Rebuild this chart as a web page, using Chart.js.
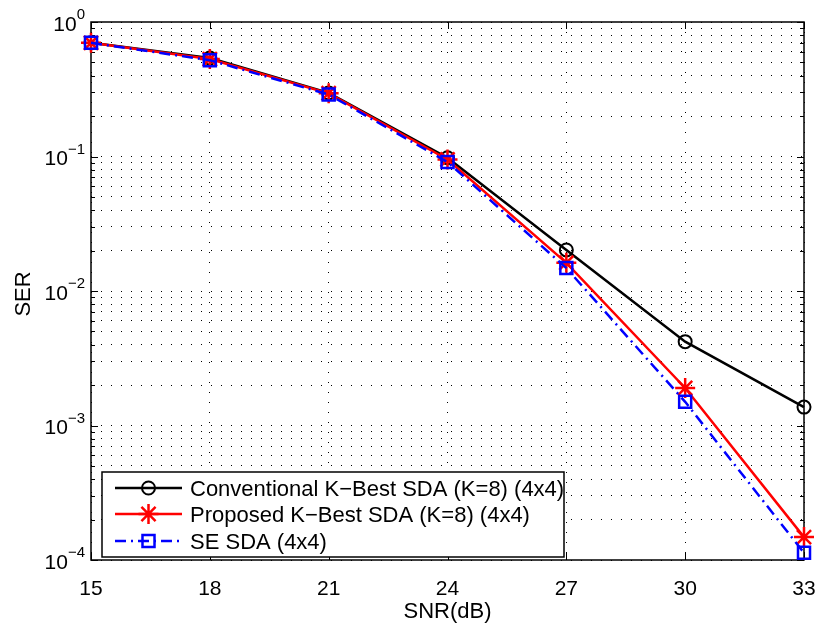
<!DOCTYPE html>
<html>
<head>
<meta charset="utf-8">
<script src="https://cdn.jsdelivr.net/npm/chart.js@4/dist/chart.umd.min.js"></script>
<style>
  html, body { margin: 0; padding: 0; background: #fff; }
  #wrap { width: 821px; height: 628px; }
</style>
</head>
<body>
<div id="wrap"><canvas id="ser-chart"></canvas></div>
<script>
// ── Data ────────────────────────────────────────────────────────────
const snrDb = [15, 18, 21, 24, 27, 30, 33];
const xTicks = [15, 18, 21, 24, 27, 30, 33];
const yDecades = [-4, -3, -2, -1, 0];

const serConventional = [0.70, 0.54, 0.297, 0.098, 0.0202, 0.0042, 0.00137];
const serProposed     = [0.70, 0.53, 0.295, 0.095, 0.0162, 0.0019, 0.000148];
const serSeSda        = [0.70, 0.52, 0.289, 0.091, 0.0148, 0.0015, 0.000113];

const seriesNames = [
    "Conventional K\u2212Best SDA (K=8) (4x4)",
    "Proposed K\u2212Best SDA (K=8) (4x4)",
    "SE SDA (4x4)",
];

const FONT = "'Liberation Sans', Arial, Helvetica, sans-serif";

// log ticks: 1..9 x 10^e for each decade, plus the top one
const yTickValues = [];
yDecades.forEach((e, i) => {
    if (i === yDecades.length - 1) { yTickValues.push(Math.pow(10, e)); return; }
    for (let m = 1; m <= 9; m++) yTickValues.push(Number((m * Math.pow(10, e)).toPrecision(3)));
});

const toPoints = arr => snrDb.map((s, i) => ({ x: s, y: arr[i] }));

const styles = [
    { color: "#000000", dash: [], pointStyle: "circle", radius: 6.5, pw: 2 },
    { color: "#ff0000", dash: [], pointStyle: "star", radius: 10, pw: 2.5 },
    { color: "#0000ff", dash: [11, 5, 2, 5], pointStyle: "rect", radius: 8.5, pw: 2.5 },
];

// ── Axes frame, inward ticks, MATLAB style labels ───────────────────
const matlabAxes = {
    id: "matlabAxes",
    beforeDatasetsDraw(chart) {
        const { ctx, chartArea: a, scales: { x, y } } = chart;
        ctx.save();
        ctx.strokeStyle = "#000";
        ctx.setLineDash([]);
        ctx.lineWidth = 1;
        ctx.beginPath();
        y.ticks.forEach(t => {
            const py = Math.round(y.getPixelForValue(t.value)) + 0.5;
            const lg = Math.log10(t.value);
            const len = Math.abs(lg - Math.round(lg)) < 1e-9 ? 7 : 4;
            ctx.moveTo(a.left, py); ctx.lineTo(a.left + len, py);
            ctx.moveTo(a.right, py); ctx.lineTo(a.right - len, py);
        });
        x.ticks.forEach(t => {
            const px = Math.round(x.getPixelForValue(t.value)) + 0.5;
            ctx.moveTo(px, a.bottom); ctx.lineTo(px, a.bottom - 7);
            ctx.moveTo(px, a.top); ctx.lineTo(px, a.top + 7);
        });
        ctx.stroke();
        ctx.lineWidth = 1.5;
        ctx.strokeRect(a.left, a.top, a.right - a.left, a.bottom - a.top);

        // tick labels
        ctx.fillStyle = "#000";
        ctx.textBaseline = "alphabetic";
        ctx.font = "21px " + FONT;
        ctx.textAlign = "center";
        x.ticks.forEach(t => {
            ctx.fillText(String(t.value), x.getPixelForValue(t.value), a.bottom + 34.5);
        });
        yDecades.forEach(e => {
            const py = y.getPixelForValue(Math.pow(10, e));
            const expText = e === 0 ? "0" : "\u2212" + (-e);
            ctx.font = "15px " + FONT;
            const ew = ctx.measureText(expText).width;
            const right = a.left - 6;
            ctx.textAlign = "left";
            ctx.fillText(expText, right - ew, py - 2.6);
            ctx.font = "21px " + FONT;
            ctx.textAlign = "right";
            ctx.fillText("10", right - ew, py + 8.5);
        });

        // axis titles
        ctx.font = "22px " + FONT;
        ctx.textAlign = "center";
        ctx.fillText("SNR(dB)", (a.left + a.right) / 2, 618);
        ctx.save();
        ctx.translate(30, 294);
        ctx.rotate(-Math.PI / 2);
        ctx.fillText("SER", 0, 0);
        ctx.restore();
        ctx.restore();
    },
    afterDatasetsDraw(chart) {
        // legend box, lower left inside the axes
        const { ctx } = chart;
        const box = { left: 102, top: 472, width: 462, height: 85 };
        const rows = [488, 514, 541];
        ctx.save();
        ctx.fillStyle = "#fff";
        ctx.fillRect(box.left, box.top, box.width, box.height);
        ctx.strokeStyle = "#000";
        ctx.lineWidth = 1.5;
        ctx.setLineDash([]);
        ctx.strokeRect(box.left, box.top, box.width, box.height);

        styles.forEach((s, i) => {
            const ry = rows[i];
            ctx.strokeStyle = s.color;
            ctx.lineWidth = 2.5;
            ctx.setLineDash(s.dash);
            ctx.beginPath();
            ctx.moveTo(115, ry); ctx.lineTo(182, ry);
            ctx.stroke();
            ctx.setLineDash([]);
            ctx.lineWidth = s.pw;
            ctx.fillStyle = "rgba(0,0,0,0)";
            Chart.helpers.drawPoint(ctx, {
                pointStyle: s.pointStyle, radius: s.radius, rotation: 0, borderWidth: s.pw,
            }, 148.5, ry);
            ctx.fillStyle = "#000";
            ctx.font = "22px " + FONT;
            ctx.textAlign = "left";
            ctx.textBaseline = "alphabetic";
            ctx.fillText(seriesNames[i], 190, ry + 7.9);
        });
        ctx.restore();
    },
};

// ── Chart ───────────────────────────────────────────────────────────
const seriesData = [serConventional, serProposed, serSeSda];

const ctx = document.getElementById("ser-chart").getContext("2d");
new Chart(ctx, {
    type: "line",
    data: {
        datasets: seriesData.map((arr, i) => ({
            label: seriesNames[i],
            data: toPoints(arr),
            borderColor: styles[i].color,
            borderWidth: 2.5,
            borderDash: styles[i].dash,
            pointStyle: styles[i].pointStyle,
            pointRadius: styles[i].radius,
            pointBorderWidth: styles[i].pw,
            pointBorderColor: styles[i].color,
            pointBackgroundColor: "rgba(0,0,0,0)",
            tension: 0,
            fill: false,
            clip: false,
            order: 3 - i,
        })),
    },
    options: {
        responsive: true,
        maintainAspectRatio: false,
        animation: false,
        events: [],
        layout: { padding: { left: 91, top: 22, right: 17, bottom: 68 } },
        plugins: {
            legend: { display: false },
            tooltip: { enabled: false },
        },
        scales: {
            x: {
                type: "linear",
                min: 15,
                max: 33,
                afterBuildTicks: scale => { scale.ticks = xTicks.map(v => ({ value: v })); },
                ticks: { display: false },
                grid: { color: "#000", lineWidth: 1, drawTicks: false },
                border: { display: false, dash: [1, 9] },
            },
            y: {
                type: "logarithmic",
                min: 1e-4,
                max: 1,
                afterBuildTicks: scale => { scale.ticks = yTickValues.map(v => ({ value: v })); },
                ticks: { display: false },
                grid: { color: "#000", lineWidth: 1, drawTicks: false },
                border: { display: false, dash: [1, 9] },
            },
        },
    },
    plugins: [matlabAxes],
});
</script>
</body>
</html>
